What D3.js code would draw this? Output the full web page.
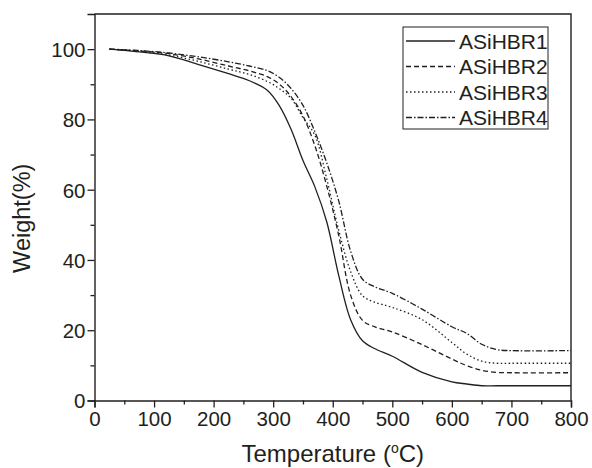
<!DOCTYPE html>
<html><head><meta charset="utf-8">
<script src="https://cdn.jsdelivr.net/npm/d3@7/dist/d3.min.js"></script>
<style>html,body{margin:0;padding:0;background:#fff;}</style>
</head><body><svg id="c" width="592" height="468"></svg>
<script>
const temps = [25,75,125,175,225,260,290,310,330,350,370,390,410,430,450,470,500,550,600,625,650,675,700,800];
const seriesNames = ["ASiHBR1","ASiHBR2","ASiHBR3","ASiHBR4"];
const w1 = [100,99.2,98.1,95.6,93,91,88.3,84,77.2,68.3,60.8,50.8,35.6,23,17,14.8,12.6,8,5.3,4.7,4.2,4.2,4.2,4.2];
const w2 = [100,99.5,98.7,97.2,95.2,93.8,92.2,90.1,86.5,81,72.5,61,47,30,22.8,21,19.5,15.9,11.8,9.9,8.6,8,7.9,7.9];
const w3 = [100,99.4,98.3,96.5,94.3,92.8,90.8,88.8,86,80.5,75.5,63,48.5,36.7,29.8,28,26.5,23,16.5,13.2,11.2,10.6,10.6,10.6];
const w4 = [100,99.6,98.9,97.8,96.4,95.2,93.9,92.0,88.8,84,76.5,67.6,56.8,42.5,34.5,32.4,30.5,26,21,19.1,16,14.5,14.2,14.2];
const xTicks = [0,100,200,300,400,500,600,700,800];
const yTicks = [0,20,40,60,80,100];

const dashes = [null,"5,3","1.5,2.5","6,2,1.5,2"];
const ink = "#231f20";
const svg = d3.select("#c");
const L=94.5, R=571, T=14, B=400.5;
const x = d3.scaleLinear().domain([0,800]).range([L,R]);
const y = d3.scaleLinear().domain([0,110]).range([B,T]);
const font = "Arial, 'Liberation Sans', sans-serif";

const xMinor = d3.range(50,800,100);
const yMinor = d3.range(10,110,20);
const xAxis = d3.axisBottom(x).tickValues(xTicks).tickSize(7).tickFormat(d3.format("d"));
const yAxis = d3.axisLeft(y).tickValues(yTicks).tickSize(7).tickFormat(d3.format("d"));
const gx = svg.append("g").attr("transform",`translate(0,${B})`).call(xAxis);
const gy = svg.append("g").attr("transform",`translate(${L},0)`).call(yAxis);
svg.append("g").attr("transform",`translate(0,${B})`).call(d3.axisBottom(x).tickValues(xMinor).tickSize(4).tickFormat("")).select(".domain").remove();
svg.append("g").attr("transform",`translate(${L},0)`).call(d3.axisLeft(y).tickValues(yMinor).tickSize(4).tickFormat("")).select(".domain").remove();
svg.selectAll(".tick line").attr("stroke",ink).attr("stroke-width",1.3);
svg.selectAll(".domain").attr("stroke",ink).attr("stroke-width",1.4);
gx.selectAll("text").attr("font-family",font).attr("font-size",20.5).attr("fill",ink).attr("dy","0.95em").attr("y",6);
gy.selectAll("text").attr("font-family",font).attr("font-size",20.5).attr("fill",ink).attr("x",-9).attr("dy","0.36em");
svg.append("path").attr("d",`M${L},${T}H${R}V${B}`).attr("fill","none").attr("stroke",ink).attr("stroke-width",1.4);

const data = [w1,w2,w3,w4];
const line = d3.line().x(d=>x(d[0])).y(d=>y(d[1])).curve(d3.curveCatmullRom.alpha(0.5));
data.forEach((w,i)=>{
  const pts = temps.map((t,j)=>[t,w[j]]);
  svg.append("path").datum(pts).attr("d",line).attr("fill","none").attr("stroke",ink)
    .attr("stroke-width",1.3).attr("stroke-dasharray",dashes[i]);
});

const lg = svg.append("g");
lg.append("rect").attr("x",403).attr("y",27).attr("width",145).attr("height",102).attr("fill","#fff").attr("stroke",ink).attr("stroke-width",1);
seriesNames.forEach((n,i)=>{
  const yy = 41 + i*25.5;
  lg.append("line").attr("x1",406).attr("x2",455).attr("y1",yy).attr("y2",yy).attr("stroke",ink).attr("stroke-width",1.3).attr("stroke-dasharray",dashes[i]);
  lg.append("text").attr("x",459).attr("y",yy).attr("dy","0.36em").attr("font-family",font).attr("font-size",21).attr("fill",ink).text(n);
});

const xt = svg.append("text").attr("x",(L+R)/2).attr("y",462).attr("text-anchor","middle").attr("font-family",font).attr("font-size",24).attr("fill",ink);
xt.append("tspan").text("Temperature (");
xt.append("tspan").attr("font-size",14).attr("dy",-9).text("o");
xt.append("tspan").attr("dy",9).text("C)");
svg.append("text").attr("transform",`translate(30,${(T+B)/2+11}) rotate(-90)`).attr("text-anchor","middle").attr("font-family",font).attr("font-size",23.5).attr("fill",ink).text("Weight(%)");
</script></body></html>
